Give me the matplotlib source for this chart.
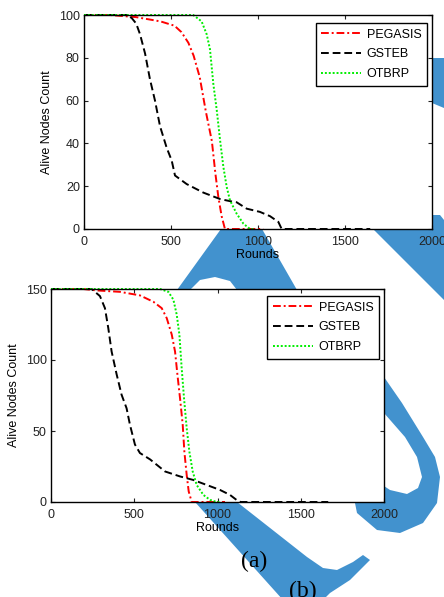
import matplotlib
matplotlib.use("Agg")
import matplotlib.pyplot as plt
from matplotlib.patches import Polygon

plt.rcParams['font.family'] = ['Liberation Sans', 'DejaVu Sans']

# -------------------- data: 100 nodes (top panel) --------------------
pegasis_100_x = [0, 150, 300, 440, 520, 560, 600, 630, 665, 700, 735, 755, 772, 791, 810, 1030]
pegasis_100_y = [100, 100, 99, 97, 95, 92, 87, 81, 71, 55, 41, 26, 15, 6, 0, 0]

gsteb_100_x = [0, 245, 274, 300, 322, 351, 379, 408, 437, 475, 504, 523, 590, 686, 782,
               840, 877, 935, 1011, 1069, 1117, 1136, 1645]
gsteb_100_y = [100, 100, 98.6, 96, 91, 82, 70, 60, 48, 38, 32, 25, 21, 17, 14,
               13, 12.5, 9.5, 8, 6, 3.3, 0, 0]

otbrp_100_x = [0, 628, 676, 705, 724, 743, 763, 782, 801, 820, 839, 877, 916, 954, 980]
otbrp_100_y = [100, 100, 97, 91, 84, 68, 55.5, 41.5, 29, 19.7, 13.4, 7.2, 2.5, 0, 0]

# -------------------- data: 150 nodes (bottom panel) --------------------
pegasis_150_x = [0, 194, 274, 414, 534, 615, 665, 695, 725, 745, 759, 775, 791, 801, 815, 827, 845, 1045]
pegasis_150_y = [150, 150, 149, 148, 145.5, 141, 136.5, 129.5, 118, 106, 90, 73, 54.5, 35.5, 19, 7.5, 0, 0]

gsteb_150_x = [0, 244, 294, 324, 344, 364, 394, 424, 454, 474, 504, 534, 595, 685, 775,
               855, 935, 1015, 1075, 1125, 1140, 1665]
gsteb_150_y = [150, 150, 145, 136.5, 122.5, 106, 90, 75.5, 66, 54.5, 40.5, 34.5, 30, 21.5, 18,
               15.5, 12, 8.5, 5, 0.5, 0, 0]

otbrp_150_x = [0, 655, 705, 735, 755, 771, 785, 799, 815, 831, 851, 875, 915, 955, 995, 1015]
otbrp_150_y = [150, 150, 148, 142.5, 132, 118, 94, 73, 52, 35.5, 21.5, 12, 5, 1.5, 0, 0]

labels = ['PEGASIS', 'GSTEB', 'OTBRP']
x_ticks = [0, 500, 1000, 1500, 2000]
y_ticks_100 = [0, 20, 40, 60, 80, 100]
y_ticks_150 = [0, 50, 100, 150]

W, H = 444, 597


def draw_watermark(fig):
    # big blue "S" logo sitting behind the two plots (figure pixel coords)
    bg = fig.add_axes([0, 0, 1, 1], zorder=-1)
    bg.set_xlim(0, W)
    bg.set_ylim(H, 0)
    bg.axis('off')
    blue = '#4292CE'
    shapes = [
        [(420, 58), (444, 58), (444, 108), (420, 98)],
        [(360, 215), (440, 215), (444, 220), (444, 300), (373, 229)],
        [(177, 290), (226, 222), (258, 222), (297, 290), (237, 290), (230, 281),
         (215, 277), (200, 280), (190, 290)],
        [(370, 362), (384, 377), (402, 403), (423, 437), (435, 457), (440, 477),
         (437, 503), (423, 523), (400, 533), (377, 530), (357, 513), (355, 503),
         (365, 490), (384, 486), (390, 490), (407, 494), (418, 488), (422, 477),
         (417, 457), (405, 437), (384, 413), (370, 400)],
        [(185, 492), (232, 492), (237, 502), (307, 557), (323, 568), (337, 570),
         (353, 562), (363, 555), (370, 560), (350, 580), (330, 593), (323, 600),
         (283, 600), (195, 502)],
    ]
    for pts in shapes:
        bg.add_patch(Polygon(pts, closed=True, facecolor=blue, edgecolor='none'))


def style_axes(ax, y_max, y_ticks, legend_anchor):
    ax.set_xlim(0, 2000)
    ax.set_ylim(0, y_max)
    ax.set_xticks(x_ticks)
    ax.set_yticks(y_ticks)
    ax.tick_params(direction='in', top=True, right=True, length=3, width=0.8,
                   labelsize=9, colors='#222222')
    ax.tick_params(axis='x', pad=5)
    ax.tick_params(axis='y', pad=3)
    for sp in ax.spines.values():
        sp.set_linewidth(1.0)
        sp.set_color('black')
    ax.set_xlabel('Rounds', fontsize=9, labelpad=1)
    ax.set_ylabel('Alive Nodes Count', fontsize=9, labelpad=4)
    leg = ax.legend(loc='upper right', bbox_to_anchor=legend_anchor, fontsize=9,
                    fancybox=False, framealpha=1, edgecolor='black',
                    handlelength=3.2, handletextpad=0.45, labelspacing=0.62,
                    borderpad=0.45, borderaxespad=0)
    leg.get_frame().set_linewidth(1.0)


def plot_panel(ax, px, py, gx, gy, ox, oy):
    ax.plot(px, py, color='#FF0000', linewidth=1.4, dashes=(4, 1.5, 1, 1.5),
            label=labels[0], clip_on=False)
    ax.plot(gx, gy, color='black', linewidth=1.4, dashes=(4, 2),
            label=labels[1], clip_on=False)
    ax.plot(ox, oy, color='#00EE00', linewidth=1.4, dashes=(1, 1),
            label=labels[2], clip_on=False)


fig = plt.figure(figsize=(W / 100, H / 100), dpi=100)
fig.patch.set_facecolor('white')
draw_watermark(fig)

# -------------------- top panel --------------------
ax1 = fig.add_axes([84 / W, 1 - 229 / H, 348 / W, 214 / H])
plot_panel(ax1, pegasis_100_x, pegasis_100_y, gsteb_100_x, gsteb_100_y,
           otbrp_100_x, otbrp_100_y)
style_axes(ax1, 100, y_ticks_100, (0.986, 0.963))

# -------------------- bottom panel --------------------
ax2 = fig.add_axes([51 / W, 1 - 502 / H, 333 / W, 213 / H])
plot_panel(ax2, pegasis_150_x, pegasis_150_y, gsteb_150_x, gsteb_150_y,
           otbrp_150_x, otbrp_150_y)
style_axes(ax2, 150, y_ticks_150, (0.985, 0.967))

fig.text(254 / W, 1 - 561 / H, '(a)', family='Liberation Serif', fontsize=17,
         ha='center', va='center')
fig.text(303 / W, 1 - 591 / H, '(b)', family='Liberation Serif', fontsize=17,
         ha='center', va='center')

fig.savefig('out.png', dpi=100)
